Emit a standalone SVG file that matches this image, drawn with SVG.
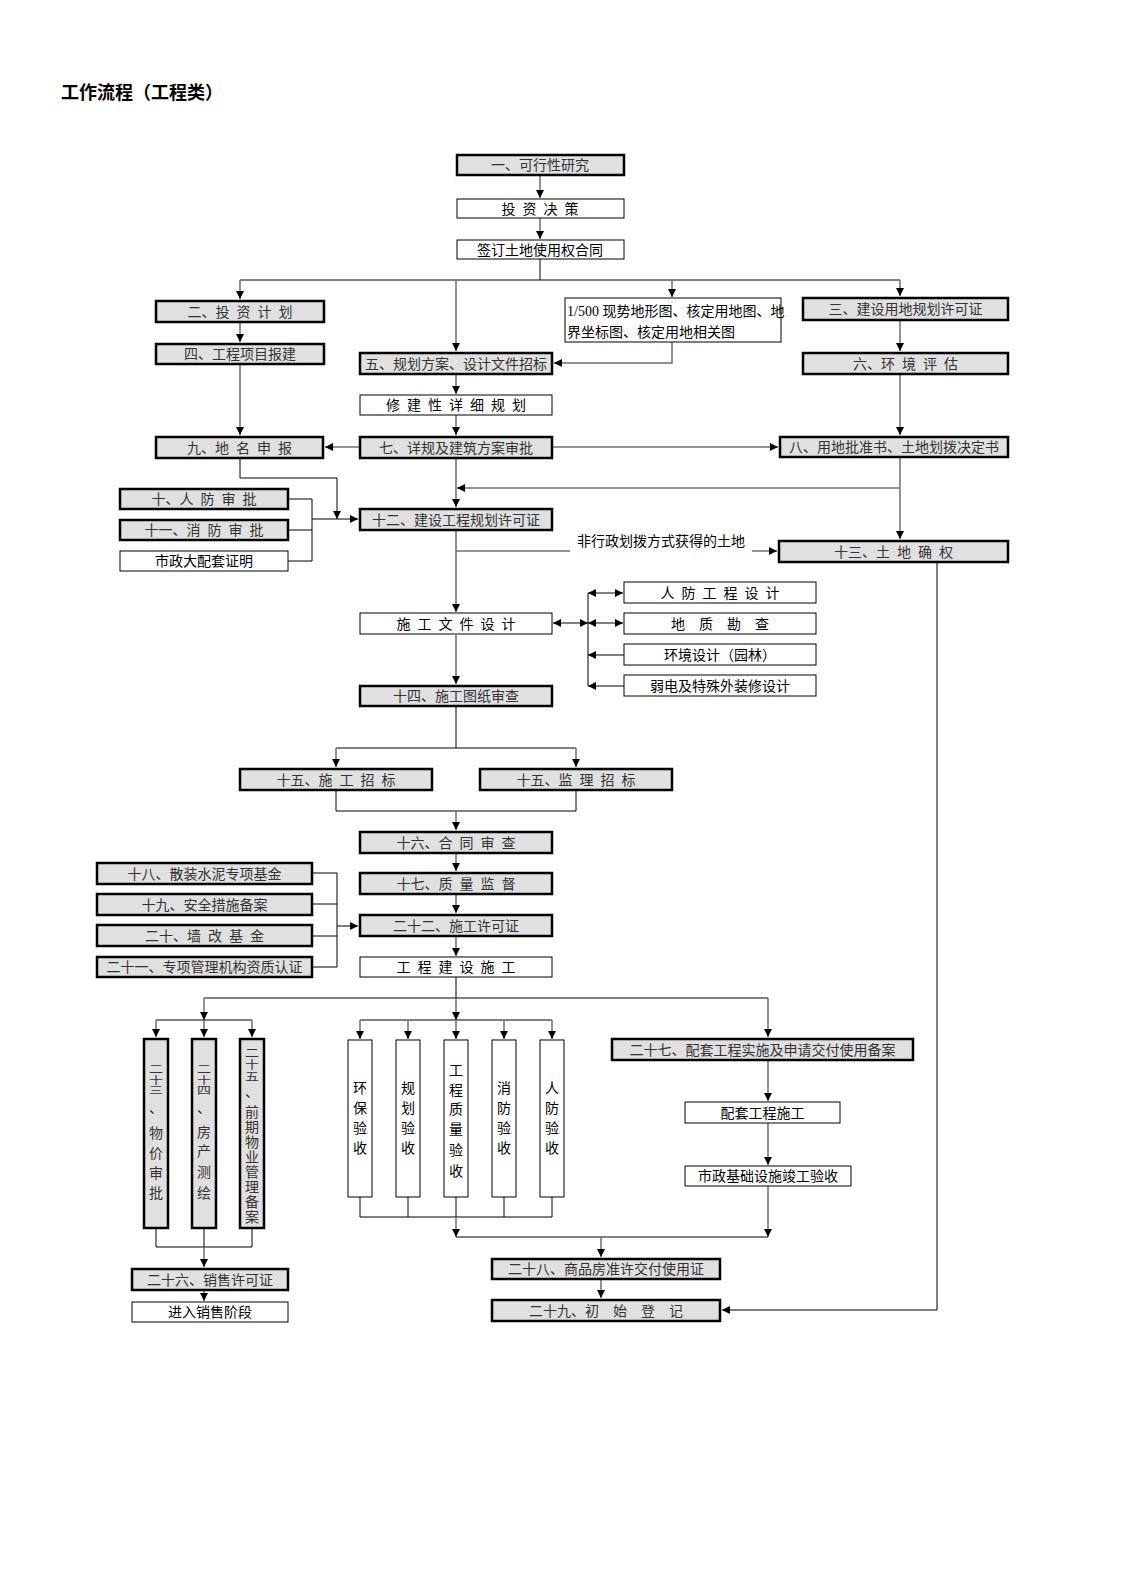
<svg xmlns="http://www.w3.org/2000/svg" width="1122" height="1587" viewBox="0 0 1122 1587" xml:space="preserve">
<style>
.gb{fill:#e0e0e0;stroke:#000;stroke-width:2.5}
.wb{fill:#fff;stroke:#000;stroke-width:1}
text{font-family:"Liberation Serif","Noto Sans CJK SC",serif;font-size:14px;text-anchor:middle;white-space:pre;word-spacing:3.5px}
.tg{fill:#333}
.tw{fill:#000}
.title{font-size:18px;font-weight:bold;text-anchor:start;fill:#000}
.c{fill:none;stroke:#6e6e6e;stroke-width:1.5}
.k{fill:none;stroke:#000;stroke-width:1}
.ar{marker-end:url(#a)}
.da{marker-start:url(#a);marker-end:url(#a)}
</style>
<defs>
<marker id="a" viewBox="0 0 8 8" refX="8" refY="4" markerWidth="8" markerHeight="8" markerUnits="userSpaceOnUse" orient="auto-start-reverse">
<path d="M0,0 L8,4 L0,8 z" fill="#000"/>
</marker>
</defs>
<rect width="1122" height="1587" fill="#fff"/>
<text class="title" x="61" y="99">工作流程（工程类）</text>

<g id="connectors">
<line class="c ar" x1="540" y1="176" x2="540" y2="198"/>
<line class="c ar" x1="540" y1="218" x2="540" y2="239"/>
<polyline class="k" points="540,259 540,280"/>
<line class="k" x1="240" y1="280" x2="900" y2="280"/>
<line class="c ar" x1="240" y1="280" x2="240" y2="299"/>
<line class="c ar" x1="456" y1="280" x2="456" y2="351"/>
<line class="c ar" x1="672" y1="280" x2="672" y2="297"/>
<line class="c ar" x1="900" y1="280" x2="900" y2="296"/>
<line class="c ar" x1="240" y1="323" x2="240" y2="342"/>
<line class="c ar" x1="240" y1="365" x2="240" y2="435"/>
<polyline class="c ar" points="672,342 672,363 554,363"/>
<line class="c ar" x1="456" y1="375" x2="456" y2="394"/>
<line class="c ar" x1="456" y1="415" x2="456" y2="435"/>
<line class="c ar" x1="900" y1="321" x2="900" y2="351"/>
<line class="c ar" x1="900" y1="375" x2="900" y2="435"/>
<line class="c ar" x1="359" y1="447" x2="325" y2="447"/>
<line class="c ar" x1="553" y1="447" x2="778" y2="447"/>
<polyline class="k ar" points="240,459 240,478 337,478 337,519"/>
<polyline class="k" points="288,499 312,499 312,561 288,561"/>
<line class="k" x1="288" y1="530" x2="312" y2="530"/>
<line class="k ar" x1="312" y1="519" x2="358" y2="519"/>
<line class="c ar" x1="900" y1="458" x2="900" y2="539"/>
<line class="c ar" x1="900" y1="488" x2="457" y2="488"/>
<line class="c ar" x1="456" y1="459" x2="456" y2="507"/>
<line class="c ar" x1="456" y1="531" x2="456" y2="612"/>
<line class="c" x1="456" y1="551" x2="570" y2="551"/>
<line class="c ar" x1="752" y1="551" x2="777" y2="551"/>
<polyline class="k ar" points="937,563 937,1310 722,1310"/>
<line class="k da" x1="553" y1="623" x2="588" y2="623"/>
<line class="k" x1="588" y1="593" x2="588" y2="686"/>
<line class="k da" x1="588" y1="593" x2="623" y2="593"/>
<line class="k da" x1="588" y1="623" x2="623" y2="623"/>
<line class="k ar" x1="624" y1="655" x2="588" y2="655"/>
<line class="k ar" x1="624" y1="686" x2="588" y2="686"/>
<line class="c ar" x1="456" y1="635" x2="456" y2="684"/>
<polyline class="k" points="456,707 456,748"/>
<line class="k" x1="336" y1="748" x2="576" y2="748"/>
<line class="c ar" x1="336" y1="748" x2="336" y2="767"/>
<line class="c ar" x1="576" y1="748" x2="576" y2="767"/>
<polyline class="k" points="336,791 336,811 576,811 576,791"/>
<line class="c ar" x1="456" y1="811" x2="456" y2="830"/>
<line class="c ar" x1="456" y1="854" x2="456" y2="871"/>
<line class="c ar" x1="456" y1="895" x2="456" y2="913"/>
<line class="k" x1="312" y1="873" x2="337" y2="873"/>
<line class="k" x1="312" y1="904" x2="337" y2="904"/>
<line class="k" x1="312" y1="936" x2="337" y2="936"/>
<line class="k" x1="312" y1="967" x2="337" y2="967"/>
<line class="k" x1="337" y1="873" x2="337" y2="967"/>
<line class="k ar" x1="337" y1="926" x2="358" y2="926"/>
<line class="c ar" x1="456" y1="937" x2="456" y2="956"/>
<line class="k" x1="456" y1="977" x2="456" y2="998"/>
<line class="k" x1="204" y1="998" x2="768" y2="998"/>
<line class="c ar" x1="204" y1="998" x2="204" y2="1020"/>
<line class="c ar" x1="456" y1="998" x2="456" y2="1020"/>
<line class="k" x1="156" y1="1020" x2="252" y2="1020"/>
<line class="c ar" x1="156" y1="1020" x2="156" y2="1037"/>
<line class="c ar" x1="204" y1="1020" x2="204" y2="1037"/>
<line class="c ar" x1="252" y1="1020" x2="252" y2="1037"/>
<line class="k" x1="360" y1="1020" x2="552" y2="1020"/>
<line class="c ar" x1="360" y1="1020" x2="360" y2="1039"/>
<line class="c ar" x1="408" y1="1020" x2="408" y2="1039"/>
<line class="c ar" x1="456" y1="1020" x2="456" y2="1039"/>
<line class="c ar" x1="504" y1="1020" x2="504" y2="1039"/>
<line class="c ar" x1="552" y1="1020" x2="552" y2="1039"/>
<line class="c ar" x1="768" y1="998" x2="768" y2="1037"/>
<line class="c ar" x1="768" y1="1061" x2="768" y2="1101"/>
<line class="c ar" x1="768" y1="1123" x2="768" y2="1165"/>
<line class="c ar" x1="768" y1="1186" x2="768" y2="1237"/>
<polyline class="k" points="360,1197 360,1217 552,1217 552,1197"/>
<line class="k" x1="408" y1="1197" x2="408" y2="1217"/>
<line class="k" x1="456" y1="1197" x2="456" y2="1217"/>
<line class="k" x1="504" y1="1197" x2="504" y2="1217"/>
<line class="c ar" x1="456" y1="1217" x2="456" y2="1237"/>
<line class="k" x1="456" y1="1237" x2="768" y2="1237"/>
<line class="c ar" x1="601" y1="1237" x2="601" y2="1257"/>
<line class="c ar" x1="601" y1="1280" x2="601" y2="1298"/>
<polyline class="k" points="156,1229 156,1247 252,1247 252,1229"/>
<line class="k" x1="204" y1="1229" x2="204" y2="1247"/>
<line class="c ar" x1="204" y1="1247" x2="204" y2="1267"/>
<line class="c ar" x1="204" y1="1291" x2="204" y2="1301"/>
<text class="tw" x="661" y="546" style="word-spacing:0">非行政划拨方式获得的土地</text>
</g>

<g id="n1"><rect class="gb" x="457" y="155" width="167" height="20"/><text class="tg" x="540" y="170">一、可行性研究</text></g>
<g id="n_invest"><rect class="wb" x="457" y="199" width="167" height="19"/><text class="tw" x="540" y="213.5">投 资 决 策</text></g>
<g id="n_contract"><rect class="wb" x="457" y="240" width="167" height="19"/><text class="tw" x="540" y="254.5">签订土地使用权合同</text></g>
<g id="n2"><rect class="gb" x="156" y="301" width="168" height="21"/><text class="tg" x="240" y="316.5">二、投 资 计 划</text></g>
<g id="n4"><rect class="gb" x="156" y="344" width="168" height="20"/><text class="tg" x="240" y="359">四、工程项目报建</text></g>
<g id="n_maps"><rect class="wb" x="565" y="298" width="216" height="44"/><text class="tw" x="567" y="316" style="text-anchor:start;word-spacing:0">1/500 现势地形图、核定用地图、地</text><text class="tw" x="567" y="337" style="text-anchor:start;word-spacing:0">界坐标图、核定用地相关图</text></g>
<g id="n3"><rect class="gb" x="803" y="298" width="205" height="22"/><text class="tg" x="905.5" y="314">三、建设用地规划许可证</text></g>
<g id="n5"><rect class="gb" x="360" y="353" width="192" height="21"/><text class="tg" x="456" y="368.5">五、规划方案、设计文件招标</text></g>
<g id="n6"><rect class="gb" x="803" y="353" width="205" height="21"/><text class="tg" x="905.5" y="368.5">六、环 境 评 估</text></g>
<g id="n_detail"><rect class="wb" x="360" y="395" width="192" height="20"/><text class="tw" x="456" y="410">修 建 性 详 细 规 划</text></g>
<g id="n9"><rect class="gb" x="156" y="437" width="167" height="21"/><text class="tg" x="239.5" y="452.5">九、地 名 申 报</text></g>
<g id="n7"><rect class="gb" x="360" y="437" width="192" height="21"/><text class="tg" x="456" y="452.5">七、详规及建筑方案审批</text></g>
<g id="n8"><rect class="gb" x="780" y="437" width="228" height="20"/><text class="tg" x="894" y="452">八、用地批准书、土地划拨决定书</text></g>
<g id="n10"><rect class="gb" x="120" y="489" width="168" height="20"/><text class="tg" x="204" y="504">十、人 防 审 批</text></g>
<g id="n11"><rect class="gb" x="120" y="520" width="168" height="20"/><text class="tg" x="204" y="535">十一、消 防 审 批</text></g>
<g id="n_municipal"><rect class="wb" x="120" y="551" width="168" height="20"/><text class="tw" x="204" y="566">市政大配套证明</text></g>
<g id="n12"><rect class="gb" x="360" y="509" width="192" height="21"/><text class="tg" x="456" y="524.5">十二、建设工程规划许可证</text></g>
<g id="n13"><rect class="gb" x="779" y="541" width="229" height="21"/><text class="tg" x="893.5" y="556.5">十三、土 地 确 权</text></g>
<g id="n_cdesign"><rect class="wb" x="360" y="613" width="192" height="21"/><text class="tw" x="456" y="628.5">施 工 文 件 设 计</text></g>
<g id="n_civil"><rect class="wb" x="624" y="582" width="192" height="21"/><text class="tw" x="720" y="597.5">人 防 工 程 设 计</text></g>
<g id="n_geo"><rect class="wb" x="624" y="613" width="192" height="21"/><text class="tw" x="720" y="628.5">地  质  勘  查</text></g>
<g id="n_env"><rect class="wb" x="624" y="644" width="192" height="21"/><text class="tw" x="720" y="659.5">环境设计（园林）</text></g>
<g id="n_weak"><rect class="wb" x="624" y="675" width="192" height="21"/><text class="tw" x="720" y="690.5">弱电及特殊外装修设计</text></g>
<g id="n14"><rect class="gb" x="360" y="686" width="192" height="20"/><text class="tg" x="456" y="701">十四、施工图纸审查</text></g>
<g id="n15a"><rect class="gb" x="240" y="769" width="192" height="21"/><text class="tg" x="336" y="784.5">十五、施 工 招 标</text></g>
<g id="n15b"><rect class="gb" x="480" y="769" width="192" height="21"/><text class="tg" x="576" y="784.5">十五、监 理 招 标</text></g>
<g id="n16"><rect class="gb" x="360" y="832" width="192" height="21"/><text class="tg" x="456" y="847.5">十六、合 同 审 查</text></g>
<g id="n17"><rect class="gb" x="360" y="873" width="192" height="21"/><text class="tg" x="456" y="888.5">十七、质 量 监 督</text></g>
<g id="n22"><rect class="gb" x="360" y="915" width="192" height="21"/><text class="tg" x="456" y="930.5">二十二、施工许可证</text></g>
<g id="n_build"><rect class="wb" x="360" y="957" width="192" height="20"/><text class="tw" x="456" y="972">工 程 建 设 施 工</text></g>
<g id="n18"><rect class="gb" x="97" y="863" width="215" height="21"/><text class="tg" x="204.5" y="878.5">十八、散装水泥专项基金</text></g>
<g id="n19"><rect class="gb" x="97" y="894" width="215" height="21"/><text class="tg" x="204.5" y="909.5">十九、安全措施备案</text></g>
<g id="n20"><rect class="gb" x="97" y="925" width="215" height="21"/><text class="tg" x="204.5" y="940.5">二十、墙 改 基 金</text></g>
<g id="n21"><rect class="gb" x="97" y="957" width="215" height="20"/><text class="tg" x="204.5" y="972">二十一、专项管理机构资质认证</text></g>

<g id="n23"><rect class="gb" x="144" y="1039" width="24" height="189"/>
<text class="tg" transform="translate(156,1080) scale(1,0.75)"><tspan x="0" y="-9">二</tspan><tspan x="0" y="5">十</tspan><tspan x="0" y="19">三</tspan></text>
<text class="tg"><tspan x="156" y="1113">、</tspan><tspan x="156" y="1138">物</tspan><tspan x="156" y="1158">价</tspan><tspan x="156" y="1178">审</tspan><tspan x="156" y="1198">批</tspan></text></g>
<g id="n24"><rect class="gb" x="192" y="1039" width="24" height="189"/>
<text class="tg" transform="translate(204,1080) scale(1,0.75)"><tspan x="0" y="-9">二</tspan><tspan x="0" y="5">十</tspan><tspan x="0" y="19">四</tspan></text>
<text class="tg"><tspan x="204" y="1113">、</tspan><tspan x="204" y="1137">房</tspan><tspan x="204" y="1156">产</tspan><tspan x="204" y="1177">测</tspan><tspan x="204" y="1198">绘</tspan></text></g>
<g id="n25"><rect class="gb" x="240" y="1039" width="24" height="189"/>
<text class="tg" transform="translate(252,1063) scale(1,0.8)"><tspan x="0" y="-7">二</tspan><tspan x="0" y="8">十</tspan><tspan x="0" y="23">五</tspan></text>
<text class="tg"><tspan x="252" y="1097">、</tspan><tspan x="252" y="1117">前</tspan><tspan x="252" y="1132">期</tspan><tspan x="252" y="1147">物</tspan><tspan x="252" y="1162">业</tspan><tspan x="252" y="1177">管</tspan><tspan x="252" y="1192">理</tspan><tspan x="252" y="1207">备</tspan><tspan x="252" y="1222">案</tspan></text></g>

<g id="n_acc1"><rect class="wb" x="348" y="1040" width="24" height="157"/><text class="tw"><tspan x="360" y="1093">环</tspan><tspan x="360" y="1113">保</tspan><tspan x="360" y="1133">验</tspan><tspan x="360" y="1153">收</tspan></text></g>
<g id="n_acc2"><rect class="wb" x="396" y="1040" width="24" height="157"/><text class="tw"><tspan x="408" y="1093">规</tspan><tspan x="408" y="1113">划</tspan><tspan x="408" y="1133">验</tspan><tspan x="408" y="1153">收</tspan></text></g>
<g id="n_acc3"><rect class="wb" x="444" y="1040" width="24" height="157"/><text class="tw"><tspan x="456" y="1075">工</tspan><tspan x="456" y="1095">程</tspan><tspan x="456" y="1114">质</tspan><tspan x="456" y="1134">量</tspan><tspan x="456" y="1155">验</tspan><tspan x="456" y="1176">收</tspan></text></g>
<g id="n_acc4"><rect class="wb" x="492" y="1040" width="24" height="157"/><text class="tw"><tspan x="504" y="1093">消</tspan><tspan x="504" y="1113">防</tspan><tspan x="504" y="1133">验</tspan><tspan x="504" y="1153">收</tspan></text></g>
<g id="n_acc5"><rect class="wb" x="540" y="1040" width="24" height="157"/><text class="tw"><tspan x="552" y="1093">人</tspan><tspan x="552" y="1113">防</tspan><tspan x="552" y="1133">验</tspan><tspan x="552" y="1153">收</tspan></text></g>

<g id="n27"><rect class="gb" x="612" y="1039" width="301" height="21"/><text class="tg" x="762.5" y="1054.5">二十七、配套工程实施及申请交付使用备案</text></g>
<g id="n_support"><rect class="wb" x="685" y="1102" width="155" height="21"/><text class="tw" x="762.5" y="1117.5">配套工程施工</text></g>
<g id="n_infra"><rect class="wb" x="685" y="1166" width="166" height="20"/><text class="tw" x="768" y="1181">市政基础设施竣工验收</text></g>
<g id="n26"><rect class="gb" x="132" y="1269" width="156" height="21"/><text class="tg" x="210" y="1284.5">二十六、销售许可证</text></g>
<g id="n_sale"><rect class="wb" x="132" y="1302" width="156" height="20"/><text class="tw" x="210" y="1317">进入销售阶段</text></g>
<g id="n28"><rect class="gb" x="492" y="1259" width="228" height="20"/><text class="tg" x="606" y="1274">二十八、商品房准许交付使用证</text></g>
<g id="n29"><rect class="gb" x="492" y="1300" width="228" height="21"/><text class="tg" x="606" y="1315.5">二十九、初  始  登  记</text></g>
</svg>
